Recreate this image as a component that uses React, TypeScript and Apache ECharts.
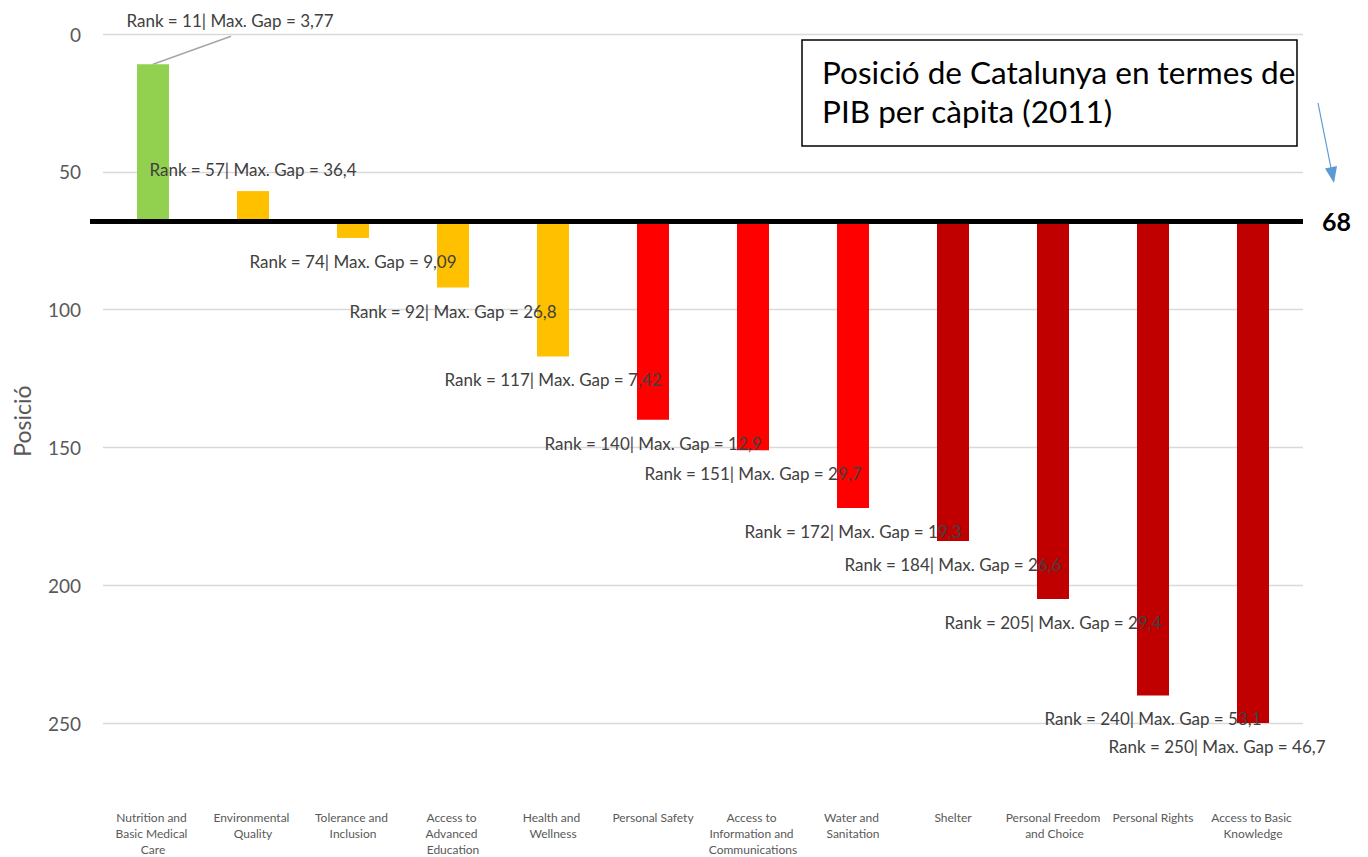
import React, { useEffect, useRef } from "react";
import * as echarts from "echarts";

const categories = [
  "Nutrition and Basic Medical Care",
  "Environmental Quality",
  "Tolerance and Inclusion",
  "Access to Advanced Education",
  "Health and Wellness",
  "Personal Safety",
  "Access to Information and Communications",
  "Water and Sanitation",
  "Shelter",
  "Personal Freedom and Choice",
  "Personal Rights",
  "Access to Basic Knowledge",
];
const ranks = [11, 57, 74, 92, 117, 140, 151, 172, 184, 205, 240, 250];
const maxGaps = [3.77, 36.4, 9.09, 26.8, 7.42, 12.9, 29.7, 19.3, 26.6, 29.4, 53.1, 46.7];
const barColors = [
  "#92D050",
  "#FFC000",
  "#FFC000",
  "#FFC000",
  "#FFC000",
  "#FF0000",
  "#FF0000",
  "#FF0000",
  "#C00000",
  "#C00000",
  "#C00000",
  "#C00000",
];
const catalunyaRank = 68;
const yTicks = [0, 50, 100, 150, 200, 250];
const boxTitle = ["Posició de Catalunya en termes de", "PIB per càpita (2011)"];

const FONT = "Lato, 'Noto Sans', sans-serif";

export default function App() {
  const ref = useRef<HTMLDivElement>(null);
  useEffect(() => {
    document.body.style.margin = "0";
    if (!ref.current) return;
    const chart = echarts.init(ref.current, undefined, { renderer: "svg" });

    const baseVals = ranks.map((r) => Math.min(r, catalunyaRank));
    const diffVals = ranks.map((r, i) => ({
      value: Math.abs(r - catalunyaRank),
      itemStyle: { color: barColors[i] },
      label:
        r < catalunyaRank
          ? { position: "top", distance: 13 }
          : { position: "bottom", distance: 15 },
    }));

    const fmt = (v: number) => String(v).replace(".", ",");

    chart.setOption({
      animation: false,
      textStyle: { fontFamily: FONT },
      grid: { left: 103, right: 65, top: 34, bottom: 132 },
      xAxis: {
        type: "category",
        data: categories,
        axisLine: { show: false },
        axisTick: { show: false },
        axisLabel: {
          interval: 0,
          margin: 86,
          width: 98,
          overflow: "break",
          fontSize: 12,
          lineHeight: 16,
          color: "#595959",
          fontFamily: FONT,
          verticalAlign: "top",
        },
      },
      yAxis: {
        type: "value",
        inverse: true,
        min: yTicks[0],
        max: yTicks[yTicks.length - 1],
        interval: 50,
        axisLine: { show: false },
        axisTick: { show: false },
        axisLabel: { fontSize: 19, color: "#595959", margin: 22, fontFamily: FONT },
        splitLine: { lineStyle: { color: "#D9D9D9", width: 1.3 } },
      },
      series: [
        {
          type: "bar",
          stack: "s",
          data: baseVals,
          itemStyle: { color: "transparent" },
          barWidth: 32,
          silent: true,
        },
        {
          type: "bar",
          stack: "s",
          data: diffVals,
          barWidth: 32,
          label: {
            show: true,
            fontSize: 17,
            color: "#404040",
            fontFamily: FONT,
            formatter: (p: any) => `Rank = ${ranks[p.dataIndex]}| Max. Gap = ${fmt(maxGaps[p.dataIndex])}`,
          },
          labelLayout: (p: any) => {
            if (p.dataIndex === 0) return { dx: 77, dy: -22 };
            if (p.dataIndex === categories.length - 1) return { dx: -36 };
            return {};
          },
        },
      ],
    });

    const y68 = chart.convertToPixel({ yAxisIndex: 0 }, catalunyaRank) as number;
    const topFirst = chart.convertToPixel({ xAxisIndex: 0, yAxisIndex: 0 }, [categories[0], ranks[0]]) as number[];
    const xRight = 1303;
    chart.setOption({
      graphic: [
        {
          type: "line",
          shape: { x1: topFirst[0], y1: topFirst[1], x2: topFirst[0] + 78, y2: topFirst[1] - 28 },
          style: { stroke: "#A6A6A6", lineWidth: 1.5 },
        },
        {
          type: "line",
          shape: { x1: 90, y1: y68, x2: xRight, y2: y68 },
          style: { stroke: "#000", lineWidth: 5 },
          z: 100,
        },
        {
          type: "text",
          x: 1322,
          y: y68,
          style: {
            text: String(catalunyaRank),
            font: `bold 25px ${FONT}`,
            fill: "#000",
            verticalAlign: "middle",
          },
        },
        {
          type: "rect",
          shape: { x: 802, y: 40, width: 495, height: 106 },
          style: { fill: "#fff", stroke: "#000", lineWidth: 1.5 },
          z: 100,
        },
        {
          type: "text",
          x: 822,
          y: 72,
          z: 101,
          style: { text: boxTitle[0], font: `31.5px ${FONT}`, fill: "#000", verticalAlign: "middle" },
        },
        {
          type: "text",
          x: 822,
          y: 111,
          z: 101,
          style: { text: boxTitle[1], font: `31.5px ${FONT}`, fill: "#000", verticalAlign: "middle" },
        },
        {
          type: "line",
          shape: { x1: 1318, y1: 103, x2: 1331, y2: 168 },
          style: { stroke: "#5B9BD5", lineWidth: 1.2 },
        },
        {
          type: "polygon",
          shape: { points: [[1334, 183], [1337, 166], [1325, 168.5]] },
          style: { fill: "#5B9BD5" },
        },
        {
          type: "text",
          x: 22,
          y: 421,
          rotation: Math.PI / 2,
          style: {
            text: "Posició",
            font: `23px ${FONT}`,
            fill: "#595959",
            align: "center",
            verticalAlign: "middle",
          },
        },
      ],
    });

    return () => chart.dispose();
  }, []);
  return <div ref={ref} style={{ width: 1368, height: 857 }} />;
}
